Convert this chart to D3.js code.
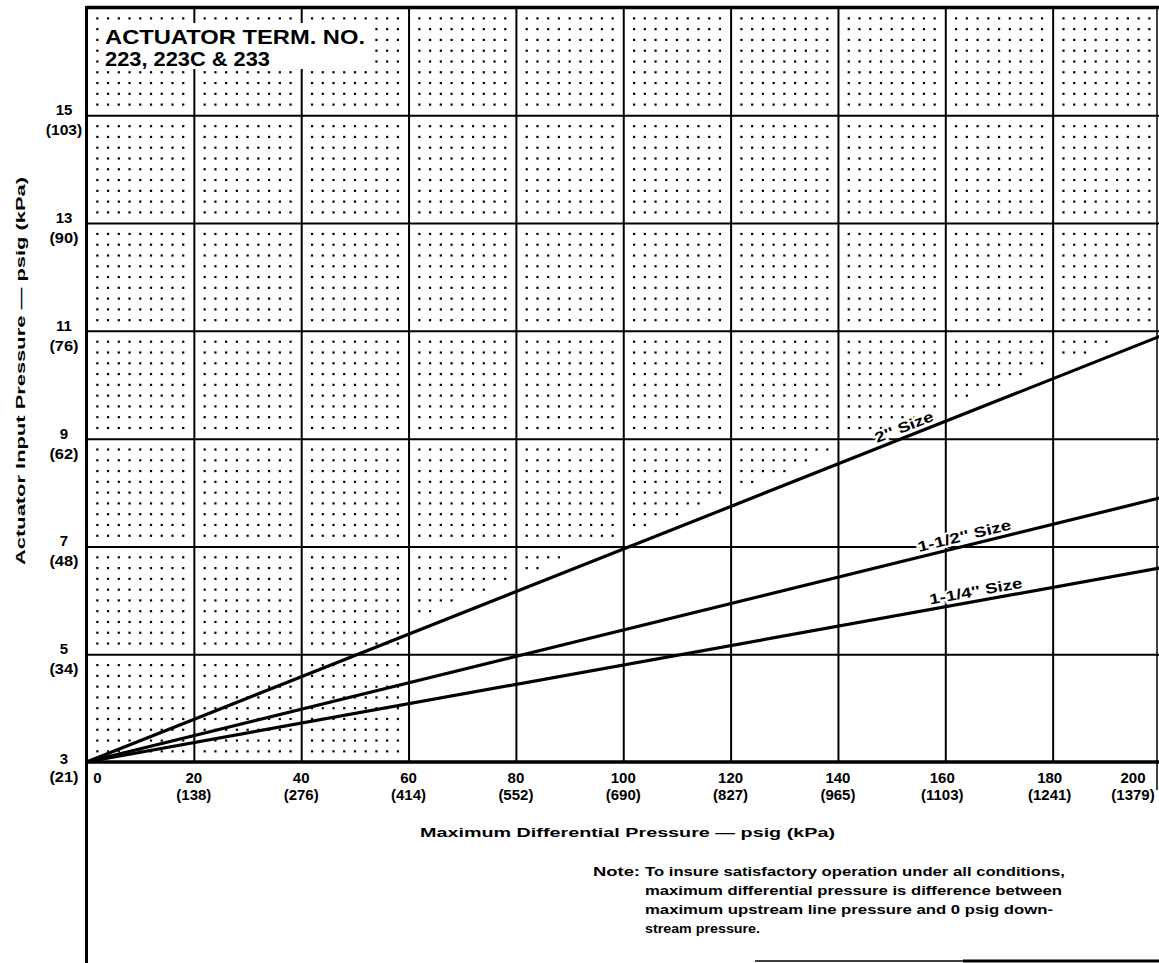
<!DOCTYPE html>
<html>
<head>
<meta charset="utf-8">
<script src="https://cdn.jsdelivr.net/npm/d3@7/dist/d3.min.js"></script>
<style>
  body { margin: 0; background: #fff; }
  svg { display: block; }
  text { font-family: "Liberation Sans", Arial, sans-serif; font-weight: bold; fill: #000; }
</style>
</head>
<body>
<div class="chart"></div>
<script>
var width = 1159;
var height = 963;

// chart values
var xPsi = [0, 20, 40, 60, 80, 100, 120, 140, 160, 180, 200];
var xKpa = ["", "(138)", "(276)", "(414)", "(552)", "(690)", "(827)", "(965)", "(1103)", "(1241)", "(1379)"];
var yPsi = [3, 5, 7, 9, 11, 13, 15];
var yKpa = ["(21)", "(34)", "(48)", "(62)", "(76)", "(90)", "(103)"];

var sizeNames = ["2'' Size", "1-1/2'' Size", "1-1/4'' Size"];
var diffPressure = [0, 200];
var input2 = [3, 10.9];
var input112 = [3, 7.9];
var input114 = [3, 6.6];

var titleLines = ["ACTUATOR TERM. NO.", "223, 223C & 233"];
var noteLines = [
  "To insure satisfactory operation under all conditions,",
  "maximum differential pressure is difference between",
  "maximum upstream line pressure and 0 psig down-",
  "stream pressure."
];

var svg = d3.select(".chart").append("svg")
    .attr("width", width)
    .attr("height", height);

var x = d3.scaleLinear().domain([0, 200]).range([86.5, 1160]);
var y = d3.scaleLinear().domain([3, 17]).range([762, 7.5]);

var series = [input2, input112, input114].map(function(vals, i) {
  return {name: sizeNames[i], pts: diffPressure.map(function(d, j) { return [d, vals[j]]; })};
});
function valueAt(s, v) {
  var a = s.pts[0], b = s.pts[1];
  return a[1] + (b[1] - a[1]) * (v - a[0]) / (b[0] - a[0]);
}

//dotted minor grid (faded out under the curves on the right, like the print)
var minorX = d3.range(2, 200, 2).filter(function(d) { return d % 20 !== 0; });
var minorY = d3.range(32, 170, 2).map(function(d) { return d / 10; })
    .filter(function(d) { return Math.abs(d - Math.round(d)) > 0.01 || Math.round(d) % 2 === 0; });
var dots = [];
minorX.forEach(function(a) {
  minorY.forEach(function(b) {
    if (a < 60 || b > valueAt(series[0], a) + 0.25) dots.push([a, b]);
  });
});
svg.append("g").attr("class", "dots")
  .selectAll("rect").data(dots).enter().append("rect")
    .attr("x", function(d) { return x(d[0]) - 1; })
    .attr("y", function(d) { return y(d[1]) - 1; })
    .attr("width", 2.2).attr("height", 2.2)
    .attr("fill", "#000");

// major grid
svg.append("g").attr("class", "vgrid")
  .call(d3.axisBottom(x).tickValues(xPsi.slice(1, 10)).tickSize(-(y(3) - y(17))).tickFormat(""))
  .attr("transform", "translate(0," + y(3) + ")")
  .call(function(g) {
    g.select(".domain").remove();
    g.selectAll(".tick line").attr("stroke", "#000").attr("stroke-width", 2);
  });
svg.append("g").attr("class", "hgrid")
  .call(d3.axisLeft(y).tickValues(yPsi.slice(1)).tickSize(-(x(200) - x(0))).tickFormat(""))
  .attr("transform", "translate(" + x(0) + ",0)")
  .call(function(g) {
    g.select(".domain").remove();
    g.selectAll(".tick line").attr("stroke", "#000").attr("stroke-width", 2);
  });

// frame
svg.append("line").attr("x1", x(0)).attr("x2", width).attr("y1", y(17)).attr("y2", y(17))
    .attr("stroke", "#000").attr("stroke-width", 3.5);
svg.append("line").attr("x1", x(0)).attr("x2", width).attr("y1", y(3)).attr("y2", y(3))
    .attr("stroke", "#000").attr("stroke-width", 3.5);
svg.append("line").attr("x1", x(0)).attr("x2", x(0)).attr("y1", y(17) - 1.5).attr("y2", height)
    .attr("stroke", "#000").attr("stroke-width", 3);
svg.append("line").attr("x1", 1157).attr("x2", 1157).attr("y1", y(17)).attr("y2", 790)
    .attr("stroke", "#000").attr("stroke-width", 1.5);
svg.append("line").attr("x1", 755).attr("x2", width).attr("y1", 961).attr("y2", 961)
    .attr("stroke", "#000").attr("stroke-width", 1.5);
svg.append("line").attr("x1", 963).attr("x2", width).attr("y1", 961).attr("y2", 961)
    .attr("stroke", "#000").attr("stroke-width", 3);

// title box
svg.append("rect").attr("x", 99).attr("y", 23).attr("width", 270).attr("height", 46).attr("fill", "#fff");
svg.append("text").attr("x", 105).attr("y", 43.5).attr("font-size", 20)
    .attr("textLength", 260).attr("lengthAdjust", "spacingAndGlyphs").text(titleLines[0]);
svg.append("text").attr("x", 105).attr("y", 65.5).attr("font-size", 19.5)
    .attr("textLength", 165).attr("lengthAdjust", "spacingAndGlyphs").text(titleLines[1]);

// curves
var line = d3.line().x(function(d) { return x(d[0]); }).y(function(d) { return y(d[1]); });
svg.append("g").attr("class", "curves")
  .selectAll("path").data(series).enter().append("path")
    .attr("d", function(d) { return line(d.pts); })
    .attr("fill", "none").attr("stroke", "#000").attr("stroke-width", 3.2);

// curve labels along each line
var labelPsi = [153, 164, 166];
var labelLen = [62, 96, 94];
svg.append("g").attr("class", "curve-labels")
  .selectAll("text").data(series).enter().append("text")
    .attr("transform", function(d, i) {
      var v = labelPsi[i];
      var ang = Math.atan2(y(d.pts[1][1]) - y(d.pts[0][1]), x(d.pts[1][0]) - x(d.pts[0][0])) * 180 / Math.PI;
      return "translate(" + x(v) + "," + y(valueAt(d, v)) + ") rotate(" + ang + ")";
    })
    .attr("dy", -5)
    .attr("text-anchor", "middle")
    .attr("font-size", 14.5)
    .attr("textLength", function(d, i) { return labelLen[i]; })
    .attr("lengthAdjust", "spacingAndGlyphs")
    .attr("stroke", "#fff").attr("stroke-width", 4).attr("paint-order", "stroke")
    .text(function(d) { return d.name; });

// y tick labels
var yl = svg.append("g").attr("class", "y-labels").attr("text-anchor", "middle").attr("font-size", 15);
yl.selectAll("text.psi").data(yPsi).enter().append("text").attr("class", "psi")
    .attr("x", 64).attr("y", function(d) { return y(d) + (d === 3 ? 2 : 0); })
    .text(function(d) { return d; });
yl.selectAll("text.kpa").data(yKpa).enter().append("text").attr("class", "kpa")
    .attr("x", 64).attr("y", function(d, i) { return y(yPsi[i]) + 20; })
    .attr("textLength", function(d) { return d.length * 7.3; })
    .attr("lengthAdjust", "spacingAndGlyphs")
    .text(function(d) { return d; });

// x tick labels
function labelX(v) {
  if (v === 0) return x(0) + 11;
  return Math.min(x(v) - (v >= 160 ? 3 : 0), 1133);
}
var xl = svg.append("g").attr("class", "x-labels").attr("text-anchor", "middle").attr("font-size", 15);
xl.selectAll("text.psi").data(xPsi).enter().append("text").attr("class", "psi")
    .attr("x", labelX).attr("y", 783)
    .text(function(d) { return d; });
xl.selectAll("text.kpa").data(xKpa).enter().append("text").attr("class", "kpa")
    .attr("x", function(d, i) { return labelX(xPsi[i]); }).attr("y", 800)
    .text(function(d) { return d; });

// axis titles
svg.append("text").attr("x", 420).attr("y", 837).attr("font-size", 13.5)
    .attr("textLength", 415).attr("lengthAdjust", "spacingAndGlyphs")
    .text("Maximum Differential Pressure \u2014 psig (kPa)");
svg.append("text").attr("transform", "translate(25,371) rotate(-90)")
    .attr("text-anchor", "middle").attr("font-size", 13.5)
    .attr("textLength", 388).attr("lengthAdjust", "spacingAndGlyphs")
    .text("Actuator Input Pressure \u2014 psig (kPa)");

// note
svg.append("text").attr("x", 593).attr("y", 876).attr("font-size", 13)
    .attr("textLength", 47).attr("lengthAdjust", "spacingAndGlyphs").text("Note:");
var noteEnds = [1065, 1062, 1053, 760];
svg.append("g").attr("class", "note")
  .selectAll("text").data(noteLines).enter().append("text")
    .attr("x", 645).attr("y", function(d, i) { return 876 + i * 19; })
    .attr("font-size", 13)
    .attr("textLength", function(d, i) { return noteEnds[i] - 645; })
    .attr("lengthAdjust", "spacingAndGlyphs")
    .text(function(d) { return d; });
</script>
</body>
</html>
